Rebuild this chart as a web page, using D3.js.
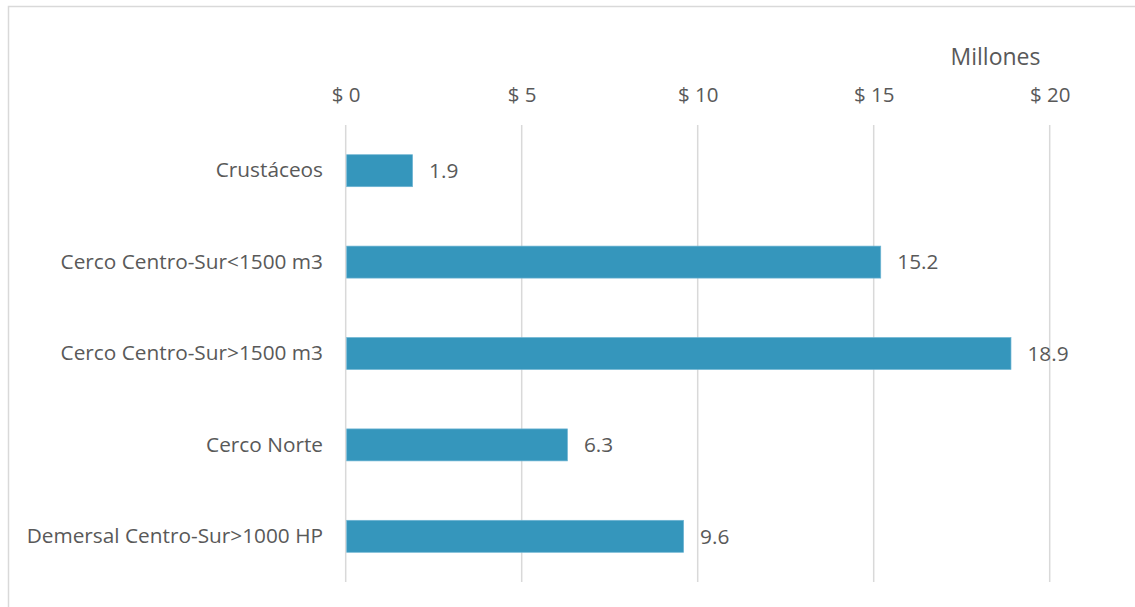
<!DOCTYPE html>
<html>
<head>
<meta charset="utf-8">
<script src="https://cdn.jsdelivr.net/npm/d3@7"></script>
<style>
  html, body { margin: 0; padding: 0; background: #fff; }
  svg { display: block; }
  text { font-family: "Open Sans", sans-serif; fill: #595959; }
</style>
</head>
<body>
<svg id="chart" width="1135" height="607"></svg>
<script>
const categories = ["Crustáceos", "Cerco Centro-Sur<1500 m3", "Cerco Centro-Sur>1500 m3", "Cerco Norte", "Demersal Centro-Sur>1000 HP"];
const values = [1.9, 15.2, 18.9, 6.3, 9.6];
const tickValues = [0, 5, 10, 15, 20];
const tickLabels = ["$ 0", "$ 5", "$ 10", "$ 15", "$ 20"];
const unitLabel = "Millones";

const svg = d3.select("#chart");
const W = 1135, H = 607;
const plot = { left: 345.7, right: 1049.7, top: 125, bottom: 582 };

// outer border
svg.append("rect")
  .attr("x", 8.5).attr("y", 6.5)
  .attr("width", W + 10).attr("height", H + 10)
  .attr("fill", "#fff").attr("stroke", "#d9d9d9").attr("stroke-width", 1.5);

const x = d3.scaleLinear().domain([0, 20]).range([plot.left, plot.right]);
const y = d3.scaleBand().domain(categories).range([plot.top, plot.bottom]).paddingInner(0.65).paddingOuter(0.325);

// gridlines
svg.append("g").selectAll("line").data(tickValues).join("line")
  .attr("x1", d => x(d)).attr("x2", d => x(d))
  .attr("y1", plot.top).attr("y2", plot.bottom)
  .attr("stroke", "#d9d9d9").attr("stroke-width", 1.5);

// top axis tick labels
const xAxis = d3.axisTop(x).tickValues(tickValues).tickFormat((d, i) => tickLabels[i]).tickSize(0).tickPadding(0);
const gx = svg.append("g").attr("transform", `translate(0,${102})`).call(xAxis);
gx.select(".domain").remove();
gx.selectAll("text").attr("font-family", "Open Sans, sans-serif").attr("font-size", 20.5).attr("fill", "#595959").attr("dy", 0);

svg.append("text").attr("x", 995.5).attr("y", 65).attr("text-anchor", "middle")
  .attr("font-size", 23).text(unitLabel);

// bars
svg.append("g").selectAll("rect").data(values).join("rect")
  .attr("x", x(0) + 1)
  .attr("y", (d, i) => y(categories[i]))
  .attr("width", d => x(d) - x(0) - 1)
  .attr("height", y.bandwidth())
  .attr("fill", "#3596bc")
  .attr("stroke", "#6fb5d3").attr("stroke-width", 0.7);

// category labels
const yAxis = d3.axisLeft(y).tickSize(0).tickPadding(0);
const gy = svg.append("g").attr("transform", `translate(${323},0)`).call(yAxis);
gy.select(".domain").remove();
gy.selectAll("text").attr("font-family", "Open Sans, sans-serif").attr("font-size", 20.8).attr("fill", "#595959");

// value labels
svg.append("g").selectAll("text").data(values).join("text")
  .attr("x", d => x(d) + 16.5)
  .attr("y", (d, i) => y(categories[i]) + y.bandwidth() / 2)
  .attr("dy", "0.35em")
  .attr("font-size", 20.8)
  .attr("fill", "#404040")
  .text(d => d.toFixed(1));
</script>
</body>
</html>
